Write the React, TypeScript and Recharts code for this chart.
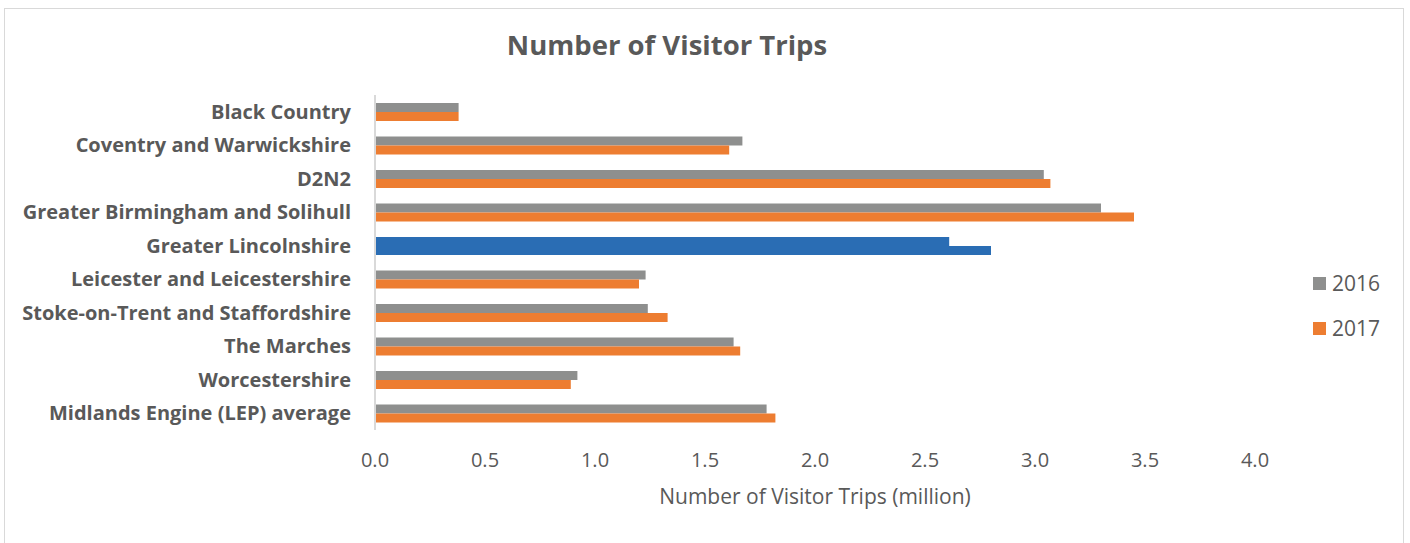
import React from 'react';
import { BarChart, Bar, XAxis, YAxis, Cell } from 'recharts';

const categories = [
  'Black Country',
  'Coventry and Warwickshire',
  'D2N2',
  'Greater Birmingham and Solihull',
  'Greater Lincolnshire',
  'Leicester and Leicestershire',
  'Stoke-on-Trent and Staffordshire',
  'The Marches',
  'Worcestershire',
  'Midlands Engine (LEP) average',
];
const trips2016 = [0.38, 1.67, 3.04, 3.30, 2.61, 1.23, 1.24, 1.63, 0.92, 1.78];
const trips2017 = [0.38, 1.61, 3.07, 3.45, 2.80, 1.20, 1.33, 1.66, 0.89, 1.82];
const xTicks = [0, 0.5, 1, 1.5, 2, 2.5, 3, 3.5, 4];
const highlightCategory = 'Greater Lincolnshire';
const seriesNames = ['2016', '2017'];
const seriesColors = ['#8E8F8E', '#ED7D31'];
const highlightColor = '#2A6DB4';

const data = categories.map((name, i) => ({
  name,
  y2016: trips2016[i],
  y2017: trips2017[i],
}));

const FONT = '"Open Sans", Lato, sans-serif';
const TEXT = '#595959';

export default function App() {
  return (
    <div style={{ position: 'absolute', left: 0, top: 0, width: 1410, height: 543, overflow: 'hidden', background: '#fff', fontFamily: FONT }}>
      <div style={{ position: 'absolute', left: 4, top: 8, width: 1400, height: 560, border: '1px solid #D9D9D9', boxSizing: 'border-box' }} />
      <div style={{ position: 'absolute', left: 0, top: 31, width: 1334, textAlign: 'center', fontSize: 27.5, lineHeight: 1, fontWeight: 700, color: TEXT }}>
        Number of Visitor Trips
      </div>
      <div style={{ position: 'absolute', left: 0, top: 0 }}>
        <BarChart
          width={1410}
          height={543}
          data={data}
          layout="vertical"
          margin={{ top: 95, right: 155, left: 0, bottom: 33 }}
          barGap={0}
          barCategoryGap="24%"
          style={{ fontFamily: FONT }}
        >
          <XAxis
            type="number"
            domain={[0, 4]}
            ticks={xTicks}
            tickFormatter={(v: number) => v.toFixed(1)}
            axisLine={false}
            tickLine={false}
            tickSize={0}
            tickMargin={23}
            height={80}
            tick={{ fill: TEXT, fontSize: 20, fontFamily: FONT }}
            label={{ value: 'Number of Visitor Trips (million)', position: 'insideBottom', offset: 6, fill: TEXT, fontSize: 21, fontFamily: FONT }}
          />
          <YAxis
            type="category"
            dataKey="name"
            width={375}
            axisLine={{ stroke: '#D9D9D9', strokeWidth: 2 }}
            tickLine={false}
            tickSize={0}
            tickMargin={24}
            interval={0}
            tick={{ fill: TEXT, fontSize: 20, fontWeight: 700, fontFamily: FONT }}
          />
          <Bar dataKey="y2016" name={seriesNames[0]} fill={seriesColors[0]} isAnimationActive={false}>
            {data.map((d) => (
              <Cell key={d.name} fill={d.name === highlightCategory ? highlightColor : seriesColors[0]} />
            ))}
          </Bar>
          <Bar dataKey="y2017" name={seriesNames[1]} fill={seriesColors[1]} isAnimationActive={false}>
            {data.map((d) => (
              <Cell key={d.name} fill={d.name === highlightCategory ? highlightColor : seriesColors[1]} />
            ))}
          </Bar>
        </BarChart>
      </div>
      {seriesNames.map((s, i) => (
        <div key={s} style={{ position: 'absolute', left: 1313, top: 271 + i * 45, height: 24, display: 'flex', alignItems: 'center', fontSize: 21, color: TEXT }}>
          <span style={{ display: 'inline-block', width: 13, height: 13, background: seriesColors[i], marginRight: 6 }} />
          <span>{s}</span>
        </div>
      ))}
    </div>
  );
}
